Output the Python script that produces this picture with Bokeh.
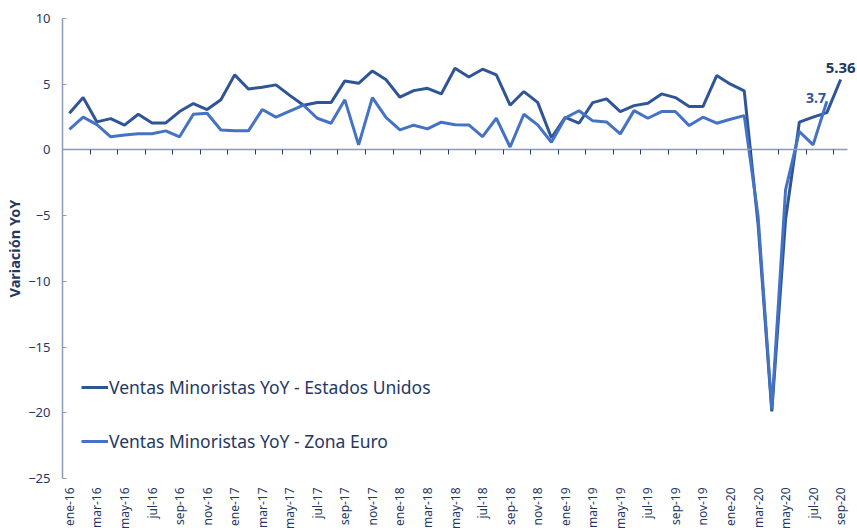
import math
from bokeh.plotting import figure
from bokeh.models import (Range1d, LinearAxis, FixedTicker, Legend, LegendItem, ColumnDataSource, Title)
from bokeh.embed import file_html
from bokeh.resources import INLINE
from bokeh.core.properties import value

# ---------------- data ----------------
month_names = ["ene", "feb", "mar", "abr", "may", "jun", "jul", "ago", "sep", "oct", "nov", "dic"]
years = ["16", "17", "18", "19", "20"]
categories = [f"{m}-{y}" for y in years for m in month_names][:57]   # ene-16 .. sep-20

us_retail = [2.79, 3.98, 2.13, 2.38, 1.88, 2.71, 2.05, 2.05, 2.92, 3.53, 3.07, 3.81,
             5.71, 4.64, 4.77, 4.95, 4.15, 3.40, 3.60, 3.60, 5.25, 5.07, 6.01, 5.33,
             4.01, 4.51, 4.69, 4.26, 6.21, 5.55, 6.14, 5.71, 3.40, 4.44, 3.62, 0.92,
             2.47, 2.03, 3.60, 3.88, 2.92, 3.37, 3.55, 4.26, 3.98, 3.30, 3.30, 5.66,
             5.00, 4.49, -5.60, -19.90, -5.30, 2.11, 2.49, 2.84, 5.36]
eu_retail = [1.57, 2.49, 1.92, 1.00, 1.14, 1.22, 1.23, 1.45, 1.00, 2.71, 2.79, 1.52,
             1.45, 1.45, 3.07, 2.49, 2.95, 3.40, 2.41, 2.03, 3.81, 0.38, 3.98, 2.45,
             1.52, 1.88, 1.60, 2.11, 1.92, 1.90, 1.01, 2.41, 0.22, 2.71, 1.90, 0.58,
             2.43, 2.98, 2.21, 2.13, 1.22, 2.99, 2.41, 2.92, 2.92, 1.85, 2.49, 2.03,
             2.33, 2.61, -5.00, -19.70, -3.04, 1.40, 0.38, 3.70]

series_names = ["Ventas Minoristas YoY - Estados Unidos", "Ventas Minoristas YoY - Zona Euro"]
y_title = "Variación YoY"
y_ticks = [-25, -20, -15, -10, -5, 0, 5, 10]
y_min, y_max = -25, 10
label_every = 2

# ---------------- styles ----------------
US_COLOR = "#2F5597"
EU_COLOR = "#4472C4"
TEXT = "#1F3864"
AXIS = "#8C9BB5"
FONT = "Noto Sans"

n = len(categories)
xs = list(range(n))

W, H = 857, 530
LEFT, TOP = 61, 18
PX_PER_MONTH = 13.79
PX_PER_UNIT = 13.14
TITLE_HALF_LEN = 49
# the plotting frame runs down to the bottom edge; the value axis itself stops at y_min
extra_below = (H - TOP) / PX_PER_UNIT - (y_max - y_min)
axis_mid_px = TOP + (y_max - y_min) / 2 * PX_PER_UNIT
title_offset = round(H - axis_mid_px - TITLE_HALF_LEN)

p = figure(width=W, height=H, output_backend="svg", toolbar_location=None,
           x_range=Range1d(-0.5, -0.5 + (W - LEFT) / PX_PER_MONTH),
           y_range=Range1d(y_min - extra_below, y_max),
           x_axis_location=None, y_axis_location="left",
           min_border_left=LEFT, min_border_right=0, min_border_top=TOP, min_border_bottom=0)
p.grid.visible = False
p.outline_line_color = None
p.background_fill_color = "white"
p.border_fill_color = "white"

# y axis
ya = p.yaxis[0]
ya.ticker = FixedTicker(ticks=y_ticks)
ya.bounds = (y_min, y_max)
ya.major_tick_in = 4
ya.major_tick_out = 0
ya.minor_tick_in = 0
ya.minor_tick_out = 0
ya.axis_line_color = AXIS
ya.axis_line_width = 1.5
ya.major_tick_line_color = AXIS
ya.major_label_text_font = FONT
ya.major_label_text_font_size = "13px"
ya.major_label_text_color = TEXT
ya.major_label_standoff = 12

# y-axis title, centred on the value-axis span
p.add_layout(Title(text=y_title, align="left", offset=title_offset, standoff=3,
                   text_font=FONT, text_font_size="14.5px", text_font_style="bold",
                   text_color=TEXT), "left")

# x axis line at zero, with boundary ticks
boundaries = [i - 0.5 for i in range(0, n, label_every)]
zero_axis = LinearAxis(fixed_location=0, ticker=FixedTicker(ticks=boundaries),
                       bounds=(-0.5, n - 0.5),
                       axis_line_color=AXIS, axis_line_width=1.5,
                       major_tick_line_color="#2E3F63", major_tick_in=0, major_tick_out=5,
                       minor_tick_in=0, minor_tick_out=0,
                       major_label_text_font_size="0px", major_label_text_alpha=0)
p.add_layout(zero_axis, "below")

# month labels below the value axis minimum
label_pos = list(range(0, n, label_every))
lab_src = ColumnDataSource(dict(x=label_pos, y=[y_min] * len(label_pos),
                                t=[categories[i] for i in label_pos]))
p.text(x="x", y="y", text="t", source=lab_src, angle=math.pi / 2,
       text_align="right", text_baseline="middle", y_offset=9,
       text_font=value(FONT), text_font_size="12px", text_color=TEXT)

# lines
r_us = p.line(xs, us_retail, line_color=US_COLOR, line_width=3)
r_eu = p.line(xs[:len(eu_retail)], eu_retail, line_color=EU_COLOR, line_width=3)

# end-of-series labels
last_us = len(us_retail) - 1
last_eu = len(eu_retail) - 1
p.text(x=[last_us], y=[us_retail[last_us]], text=[f"{us_retail[last_us]:g}"],
       text_font=value(FONT), text_font_size="15px", text_font_style="bold",
       text_color="#203864", text_align="left", text_baseline="middle",
       x_offset=-15, y_offset=-11)
p.text(x=[last_eu], y=[eu_retail[last_eu]], text=[f"{eu_retail[last_eu]:g}"],
       text_font=value(FONT), text_font_size="14px", text_font_style="bold",
       text_color="#2F5597", text_align="right", text_baseline="middle",
       x_offset=-1, y_offset=-3)

legend = Legend(items=[LegendItem(label=series_names[0], renderers=[r_us]),
                       LegendItem(label=series_names[1], renderers=[r_eu])],
                location=(19, 77), orientation="vertical",
                label_text_font=FONT, label_text_font_size="17.5px", label_text_color=TEXT,
                glyph_width=27, glyph_height=20, label_height=20, label_standoff=1,
                spacing=30, padding=0, margin=0,
                border_line_color=None, background_fill_alpha=0)
p.add_layout(legend)

open("out.html", "w").write(file_html(p, INLINE))
